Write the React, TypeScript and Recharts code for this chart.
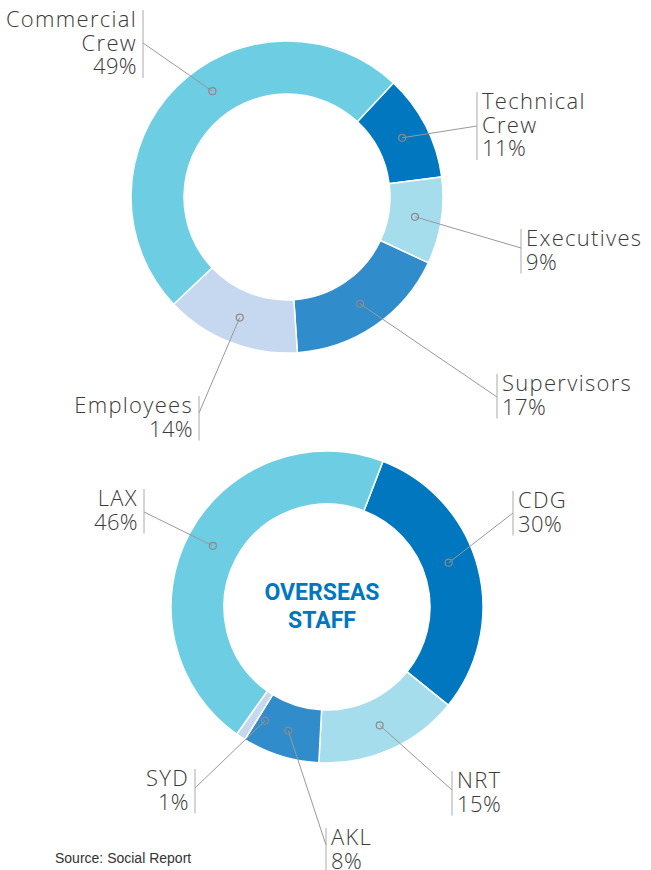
import React from "react";
import { PieChart, Pie, Cell } from "recharts";

// top donut: staff by role
const roleNames = ["Technical Crew", "Executives", "Supervisors", "Employees", "Commercial Crew"];
const roleShares = [11, 9, 17, 14, 49];
const roleColors = ["#0077bf", "#a6ddec", "#308ccb", "#c6d8ef", "#6dcde3"];

// bottom donut: overseas staff by base
const baseNames = ["CDG", "NRT", "AKL", "SYD", "LAX"];
const baseShares = [30, 15, 8, 1, 46];
const baseColors = ["#0077bf", "#a6ddec", "#308ccb", "#c6d8ef", "#6dcde3"];

const roleData = roleNames.map((name, i) => ({ name, value: roleShares[i] }));
const baseData = baseNames.map((name, i) => ({ name, value: baseShares[i] }));

// label placement (text anchor point, side of the bar, where the leader meets the bar)
type LabelPos = { x: number; y: number; side: "left" | "right"; lines: number; joinY: number; angleShift?: number };

const roleLabels: LabelPos[] = [
  { x: 477, y: 109, side: "right", lines: 2, joinY: 126 },
  { x: 521, y: 246, side: "right", lines: 1, joinY: 248 },
  { x: 497, y: 391, side: "right", lines: 1, joinY: 397 },
  { x: 199, y: 413, side: "left", lines: 1, joinY: 413 },
  { x: 143, y: 27, side: "left", lines: 2, joinY: 43, angleShift: -10 },
];

const baseLabels: LabelPos[] = [
  { x: 513, y: 508, side: "right", lines: 1, joinY: 513, angleShift: 5 },
  { x: 452, y: 788, side: "right", lines: 1, joinY: 790 },
  { x: 326, y: 845, side: "right", lines: 1, joinY: 845 },
  { x: 195, y: 786, side: "left", lines: 1, joinY: 788, angleShift: 5 },
  { x: 144, y: 506, side: "left", lines: 1, joinY: 512 },
];

const RAD = Math.PI / 180;
const LINE_H = 23.5;
const FONT = "'Open Sans', 'Noto Sans', sans-serif";

const makeLabel = (layout: LabelPos[]) => (props: any) => {
  const { cx, cy, midAngle, innerRadius, outerRadius, index, name, value } = props;
  const pos = layout[index];
  const a = (midAngle + (pos.angleShift || 0)) * RAD;
  const r = (innerRadius + outerRadius) / 2;
  const dx = cx + r * Math.cos(a);
  const dy = cy - r * Math.sin(a);
  const words: string[] = pos.lines === 2 ? name.split(" ") : [name];
  const rows = [...words, `${value}%`];
  const barTop = pos.y - 17;
  const barBottom = pos.y + (rows.length - 1) * LINE_H + 4;
  const textX = pos.side === "right" ? pos.x + 5 : pos.x - 6;
  const anchor = pos.side === "right" ? "start" : "end";
  return (
    <g key={`lbl-${name}`}>
      <line x1={dx} y1={dy} x2={pos.x} y2={pos.joinY} stroke="#999" strokeWidth={1} />
      <circle cx={dx} cy={dy} r={3.5} fill="none" stroke="#8a8a8a" strokeWidth={1.2} />
      <line x1={pos.x} y1={barTop} x2={pos.x} y2={barBottom} stroke="#aaa" strokeWidth={1} />
      {rows.map((t, i) => (
        <text
          key={i}
          x={textX}
          y={pos.y + i * LINE_H}
          textAnchor={anchor}
          fontFamily={FONT}
          fontWeight={300}
          fontSize={22}
          letterSpacing={i === rows.length - 1 ? 0.4 : 1.3}
          fill="#3a3a3a"
        >
          {t}
        </text>
      ))}
    </g>
  );
};

export default function App() {
  return (
    <div style={{ position: "absolute", left: 0, top: 0, width: 651, height: 870, background: "#fff" }}>
      <PieChart width={651} height={870} margin={{ top: 0, right: 0, bottom: 0, left: 0 }}>
        <Pie
          data={roleData}
          dataKey="value"
          nameKey="name"
          cx={287}
          cy={197}
          innerRadius={103}
          outerRadius={156}
          startAngle={47}
          endAngle={-313}
          stroke="#fff"
          strokeWidth={1.5}
          labelLine={false}
          label={makeLabel(roleLabels)}
          isAnimationActive={false}
        >
          {roleData.map((d, i) => (
            <Cell key={d.name} fill={roleColors[i]} />
          ))}
        </Pie>
        <Pie
          data={baseData}
          dataKey="value"
          nameKey="name"
          cx={327}
          cy={607}
          innerRadius={103}
          outerRadius={156}
          startAngle={69}
          endAngle={-291}
          stroke="#fff"
          strokeWidth={1.5}
          labelLine={false}
          label={makeLabel(baseLabels)}
          isAnimationActive={false}
        >
          {baseData.map((d, i) => (
            <Cell key={d.name} fill={baseColors[i]} />
          ))}
        </Pie>
        <text
          x={322}
          y={600}
          textAnchor="middle"
          fontFamily="'Liberation Sans Narrow', 'Roboto', sans-serif"
          fontWeight={700}
          fontSize={23}
          fill="#0077bf"
        >
          OVERSEAS
        </text>
        <text
          x={322}
          y={628}
          textAnchor="middle"
          fontFamily="'Liberation Sans Narrow', 'Roboto', sans-serif"
          fontWeight={700}
          fontSize={23}
          fill="#0077bf"
        >
          STAFF
        </text>
        <text x={55} y={863} fontFamily="'Liberation Sans', Arial, sans-serif" fontSize={14} fill="#333">
          Source: Social Report
        </text>
      </PieChart>
    </div>
  );
}
